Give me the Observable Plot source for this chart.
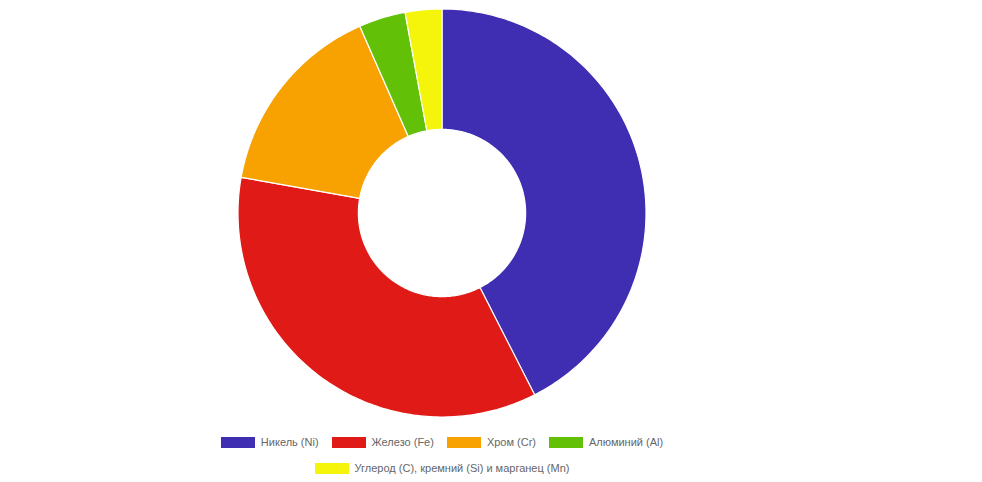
<!DOCTYPE html>
<html>
<head>
<meta charset="utf-8">
<script src="https://cdn.jsdelivr.net/npm/d3@7"></script>
<script src="https://cdn.jsdelivr.net/npm/@observablehq/plot@0.6"></script>
<style>
  body { margin: 0; background: #fff; font-family: "Liberation Sans", Arial, sans-serif; }
  #legend { width: 884px; margin-top: 4px; }
  .row { display: flex; justify-content: center; align-items: center; height: 26px; }
  .item { display: flex; align-items: center; margin: 0 6.5px; font-size: 11px; color: #666; }
  .sw { width: 34px; height: 11px; margin-right: 6px; }
</style>
</head>
<body>
<div id="chart"></div>
<div id="legend"></div>
<script>
const categories = ["Никель (Ni)", "Железо (Fe)", "Хром (Cr)", "Алюминий (Al)", "Углерод (C), кремний (Si) и марганец (Mn)"];
const values = [42.5, 35.3, 15.6, 3.7, 2.9];
const colors = ["#3f2eb1", "#df1a17", "#f7a200", "#62c107", "#f5f50c"];
const legendRows = [[0, 1, 2, 3], [4]];

const W = 982, H = 425, CX = 442, CY = 213, R = 204, INNER = 0.41;

const arcs = d3.pie().sort(null).value(d => d)(values);
const pts = [];
arcs.forEach((a, i) => {
  const n = Math.max(8, Math.ceil((a.endAngle - a.startAngle) * 60));
  for (let k = 0; k <= n; k++) {
    const t = a.startAngle + (a.endAngle - a.startAngle) * k / n;
    pts.push({
      cat: categories[i],
      xo: Math.sin(t), yo: Math.cos(t),
      xi: INNER * Math.sin(t), yi: INNER * Math.cos(t)
    });
  }
});

const chart = Plot.plot({
  width: W, height: H,
  margin: 0,
  x: { domain: [-CX / R, (W - CX) / R], range: [0, W], axis: null },
  y: { domain: [-(H - CY) / R, CY / R], range: [H, 0], axis: null },
  color: { domain: categories, range: colors },
  marks: [
    Plot.area(pts, {
      x1: "xi", y1: "yi", x2: "xo", y2: "yo",
      z: "cat", fill: "cat",
      stroke: "#fff", strokeWidth: 1.2, strokeLinejoin: "round"
    })
  ]
});
document.getElementById("chart").appendChild(chart);

const legend = document.getElementById("legend");
legendRows.forEach(row => {
  const r = document.createElement("div");
  r.className = "row";
  row.forEach(i => {
    const it = document.createElement("div");
    it.className = "item";
    const sw = document.createElement("span");
    sw.className = "sw";
    sw.style.background = colors[i];
    const tx = document.createElement("span");
    tx.textContent = categories[i];
    it.appendChild(sw); it.appendChild(tx);
    r.appendChild(it);
  });
  legend.appendChild(r);
});
</script>
</body>
</html>
